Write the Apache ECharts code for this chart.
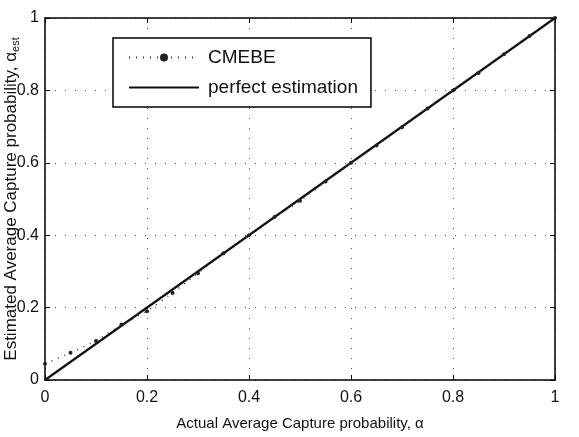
<!DOCTYPE html>
<html><head><meta charset="utf-8">
<script src="https://cdn.jsdelivr.net/npm/echarts@6/dist/echarts.min.js"></script>
<style>html,body{margin:0;padding:0;background:#fff}#c{width:579px;height:437px}</style>
</head><body><div id="c"></div>
<script>
var alphaActual = [0,0.05,0.1,0.15,0.2,0.25,0.3,0.35,0.4,0.45,0.5,0.55,0.6,0.65,0.7,0.75,0.8,0.85,0.9,0.95,1];
var cmebe = [0.045,0.075,0.108,0.153,0.19,0.24,0.295,0.35,0.4,0.45,0.495,0.548,0.6,0.648,0.698,0.75,0.8,0.848,0.9,0.95,1];
var perfectX = [0,1];
var perfectY = [0,1];
var tickLabels = ['0','0.2','0.4','0.6','0.8','1'];

var F = 'Liberation Sans, Arial, Helvetica, sans-serif';
var chart = echarts.init(document.getElementById('c'));
function fmt(v){ var s = Math.round(v*10)/10; return tickLabels[Math.round(s*5)] || String(s); }
var base = {
  type:'value', min:0, max:1, interval:0.2,
  axisLine:{show:true, onZero:false, lineStyle:{color:'#000', width:1.5}},
  axisTick:{show:true, inside:true, length:5, lineStyle:{color:'#000'}},
  splitLine:{show:false}
};
option = {
  animation:false,
  backgroundColor:'#fff',
  grid:{left:45, right:24, top:18, bottom:57, containLabel:false, outerBoundsMode:'none'},
  legend:{
    left:113, top:38, orient:'vertical', itemWidth:70, itemHeight:10, itemGap:11,
    padding:[10,13,10,15], borderColor:'#000', borderWidth:1.5, backgroundColor:'#fff',
    textStyle:{fontFamily:F, fontSize:19, color:'#111', padding:[0,0,0,4]},
    data:['CMEBE', {name:'perfect estimation', itemStyle:{opacity:0}}]
  },
  xAxis:[
    Object.assign({}, base, {position:'bottom',
      axisLabel:{fontFamily:F, fontSize:16, color:'#111', margin:10, formatter:fmt},
      splitLine:{show:true, lineStyle:{color:'#555', type:[1,9], width:1}},
      name:'Actual Average Capture probability, α', nameLocation:'middle', nameGap:36,
      nameTextStyle:{fontFamily:F, fontSize:15, color:'#111'}}),
    Object.assign({}, base, {position:'top', axisLabel:{show:false}})
  ],
  yAxis:[
    Object.assign({}, base, {position:'left',
      axisLabel:{fontFamily:F, fontSize:16, color:'#111', margin:6, formatter:fmt},
      splitLine:{show:true, lineStyle:{color:'#555', type:[1,9], width:1}},
      name:'{n|Estimated Average Capture probability, α}{s|est}', nameLocation:'middle', nameGap:24,
      nameMoveOverlap:false,
      nameTextStyle:{fontFamily:F, fontSize:17, color:'#111', rich:{
        n:{fontFamily:F, fontSize:17, color:'#111'},
        s:{fontFamily:F, fontSize:11, color:'#111', padding:[8,0,0,0]}
      }}}),
    Object.assign({}, base, {position:'right', axisLabel:{show:false}})
  ],
  series:[
    {name:'CMEBE', type:'line', xAxisIndex:0, yAxisIndex:0,
     data: alphaActual.map(function(x,i){return [x, cmebe[i]];}),
     symbol:'circle', symbolSize:4, itemStyle:{color:'#222'},
     lineStyle:{color:'#333', width:1.5, type:[1,6]}, z:3},
    {name:'perfect estimation', type:'line', xAxisIndex:0, yAxisIndex:0,
     data: perfectX.map(function(x,i){return [x, perfectY[i]];}),
     symbol:'none', lineStyle:{color:'#111', width:2.2}, itemStyle:{color:'#111'}, z:2}
  ]
};
chart.setOption(option);
</script></body></html>
